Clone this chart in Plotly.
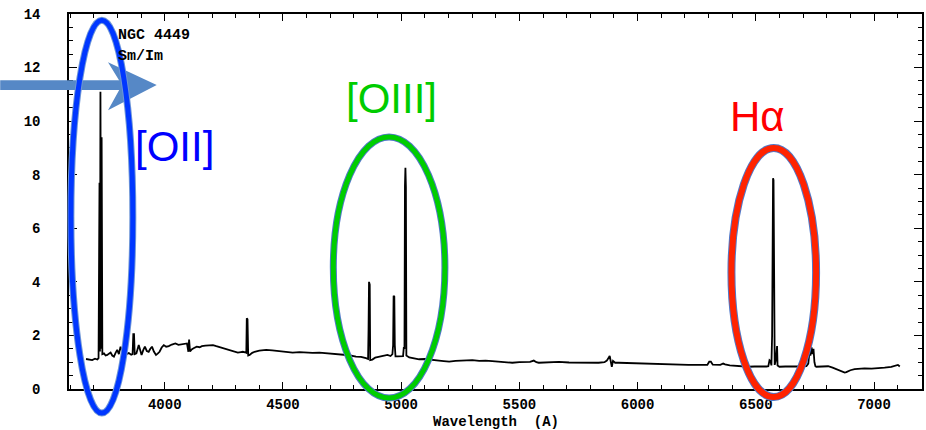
import plotly.graph_objects as go

# ---------------- data ----------------
wavelength = [
    3667, 3680, 3693, 3705, 3715, 3720,
    3724, 3726, 3728, 3731, 3733, 3736,
    3743, 3750, 3757, 3764, 3771, 3778, 3785, 3792, 3799, 3806, 3813, 3820,
    3827, 3837, 3848, 3858, 3864, 3867, 3870, 3873, 3880, 3890, 3896, 3902,
    3909, 3916, 3924, 3932, 3939, 3946, 3954, 3963, 3970, 3978, 3987, 3996,
    4006, 4017, 4030, 4045, 4058, 4073, 4085, 4094, 4100, 4103, 4107, 4114,
    4122, 4135, 4148, 4157, 4172, 4186, 4204, 4218, 4232, 4250, 4274, 4292,
    4309, 4322, 4330, 4340, 4345, 4347, 4350, 4353, 4359, 4370, 4380, 4400,
    4429, 4455, 4485, 4510, 4541, 4570, 4598, 4625, 4654, 4680, 4710, 4735,
    4752, 4780, 4809, 4830, 4851,
    4860, 4862, 4864, 4867, 4869,
    4878, 4890, 4907, 4925, 4942, 4955,
    4963, 4966, 4968, 4971, 4973, 4976,
    4985, 4992, 5000, 5008, 5011, 5014, 5016, 5018, 5020, 5022,
    5034, 5055, 5076, 5100, 5118, 5140, 5160, 5180, 5203, 5230, 5259, 5280,
    5301, 5330, 5357, 5385, 5414, 5440, 5470, 5500, 5526, 5545, 5561, 5572,
    5582, 5620, 5667, 5710, 5751, 5790, 5835, 5860, 5870, 5882, 5887, 5891,
    5896, 5905, 5920, 5950, 5990, 6020, 6046, 6075, 6103, 6130, 6159, 6185,
    6215, 6245, 6271, 6295, 6303, 6310, 6318, 6328, 6350, 6362, 6370, 6390,
    6412, 6440, 6468, 6495, 6525, 6545, 6553, 6558, 6562, 6566,
    6569, 6571, 6573, 6575, 6577, 6580,
    6585, 6587, 6590, 6592,
    6600, 6625, 6651, 6680, 6714,
    6722, 6726, 6728, 6731, 6736, 6740, 6744, 6748, 6752,
    6756, 6780, 6806, 6825, 6841, 6860, 6876, 6883, 6900, 6918, 6940, 6960,
    6990, 7017, 7045, 7073, 7090, 7101, 7109,
]
flux = [
    1.12, 1.10, 1.08, 1.13, 1.10, 1.15,
    7.70, 1.40, 11.10, 1.50, 9.40, 1.30,
    1.33, 1.25, 1.27, 1.32, 1.36, 1.25, 1.21, 1.35, 1.46, 1.30, 1.58, 1.40,
    1.27, 1.30, 1.34, 1.28, 1.30, 2.05, 2.05, 1.30, 1.33, 1.64, 1.40, 1.27,
    1.45, 1.58, 1.42, 1.39, 1.50, 1.58, 1.40, 1.27, 1.32, 1.39, 1.55, 1.64,
    1.58, 1.60, 1.66, 1.70, 1.65, 1.67, 1.71, 1.70, 1.39, 1.85, 1.40, 1.48,
    1.52, 1.58, 1.56, 1.60, 1.62, 1.64, 1.64, 1.60, 1.56, 1.50, 1.46, 1.40,
    1.36, 1.38, 1.39, 1.37, 1.35, 2.64, 2.60, 1.25, 1.27, 1.35, 1.39, 1.43,
    1.46, 1.44, 1.42, 1.40, 1.36, 1.38, 1.36, 1.35, 1.36, 1.34, 1.33, 1.31,
    1.29, 1.26, 1.21, 1.20, 1.15,
    1.12, 2.20, 4.00, 3.90, 1.08,
    1.10, 1.17, 1.21, 1.24, 1.27, 1.23,
    1.30, 1.64, 3.48, 3.45, 1.64, 1.22,
    1.22, 1.23, 1.22, 1.23, 1.53, 1.53, 7.57, 8.26, 7.55, 1.25,
    1.18, 1.14, 1.11, 1.12, 1.11, 1.08, 1.06, 1.04, 1.02, 1.05, 1.06, 1.05,
    1.08, 1.05, 1.06, 1.04, 1.02, 1.00, 0.98, 1.00, 1.00, 1.01, 1.06, 1.00,
    0.98, 1.00, 1.01, 0.99, 0.98, 0.99, 0.98, 1.00, 1.06, 1.23, 1.00, 0.83,
    1.05, 0.98, 0.98, 0.97, 0.96, 0.96, 0.96, 0.94, 0.93, 0.93, 0.92, 0.91,
    0.90, 0.90, 0.89, 0.90, 1.02, 1.02, 0.91, 0.90, 0.90, 0.95, 0.92, 0.88,
    0.86, 0.85, 0.83, 0.84, 0.83, 0.84, 0.85, 1.08, 1.05, 0.88,
    2.00, 6.37, 7.87, 7.80, 2.00, 0.90,
    1.10, 1.60, 1.60, 0.88,
    0.83, 0.84, 0.83, 0.84, 0.85,
    0.95, 1.30, 1.58, 1.25, 1.55, 1.30, 1.50, 1.00, 0.85,
    0.83, 0.84, 0.85, 0.80, 0.74, 0.68, 0.61, 0.63, 0.70, 0.74, 0.76, 0.77,
    0.76, 0.77, 0.80, 0.83, 0.86, 0.90, 0.84,
]

x_range = [3595, 7203]
y_range = [0, 14]
x_tickvals = [4000, 4500, 5000, 5500, 6000, 6500, 7000]
y_tickvals = [0, 2, 4, 6, 8, 10, 12, 14]

title_text = "NGC 4449"
subtitle_text = "Sm/Im"
x_title = "Wavelength\u00a0\u00a0(A)"

# highlighted lines: label, centre wavelength, half width, bottom, top, label position
highlights = [
    dict(label="[OII]", cx=3734, hw=131, y0=-0.90, y1=13.77,
         lx=4040, ly=9.07, color="#0000ff", ring="rgb(0,55,255)",
         edge="rgb(110,150,215)", ring_w=5, edge_w=7),
    dict(label="[OIII]", cx=4949, hw=236, y0=-0.34, y1=9.41,
         lx=4960, ly=10.86, color="#00cc00", ring="rgb(0,205,0)",
         edge="rgb(80,120,200)", ring_w=5, edge_w=7),
    dict(label="H\u03b1", cx=6576, hw=179, y0=-0.30, y1=9.00,
         lx=6506, ly=10.19, color="#ff0000", ring="rgb(255,35,0)",
         edge="rgb(80,120,200)", ring_w=6, edge_w=8),
]

# arrow (in data units): shaft and head
arrow_shaft = dict(x0=3304, x1=3831, y0=11.16, y1=11.53)
arrow_head = dict(back=3760, notch=3819, tip=3966, ytop=12.20, ybot=10.41, ymid=11.35)


def to_paper_x(v):
    return (v - x_range[0]) / (x_range[1] - x_range[0])


def to_paper_y(v):
    return (v - y_range[0]) / (y_range[1] - y_range[0])


mono = "Liberation Mono, Courier New, monospace"

fig = go.Figure()
fig.add_trace(go.Scatter(
    x=wavelength, y=flux, mode="lines",
    line=dict(color="black", width=1.8),
    hoverinfo="skip", showlegend=False,
))

shapes = []
# arrow
shapes.append(dict(
    type="rect", xref="paper", yref="paper",
    x0=to_paper_x(arrow_shaft["x0"]), x1=to_paper_x(arrow_shaft["x1"]),
    y0=to_paper_y(arrow_shaft["y0"]), y1=to_paper_y(arrow_shaft["y1"]),
    fillcolor="rgb(86,136,198)", line=dict(width=0), layer="above",
))
h = arrow_head
path = "M {:.5f},{:.5f} L {:.5f},{:.5f} L {:.5f},{:.5f} L {:.5f},{:.5f} Z".format(
    to_paper_x(h["back"]), to_paper_y(h["ytop"]),
    to_paper_x(h["tip"]), to_paper_y(h["ymid"]),
    to_paper_x(h["back"]), to_paper_y(h["ybot"]),
    to_paper_x(h["notch"]), to_paper_y(h["ymid"]),
)
shapes.append(dict(type="path", xref="paper", yref="paper", path=path,
                   fillcolor="rgb(86,136,198)", line=dict(width=0), layer="above"))

annotations = []
for hl in highlights:
    for col, w in ((hl["edge"], hl["edge_w"]), (hl["ring"], hl["ring_w"])):
        shapes.append(dict(
            type="circle", xref="paper", yref="paper",
            x0=to_paper_x(hl["cx"] - hl["hw"]), x1=to_paper_x(hl["cx"] + hl["hw"]),
            y0=to_paper_y(hl["y0"]), y1=to_paper_y(hl["y1"]),
            line=dict(color=col, width=w), fillcolor="rgba(0,0,0,0)", layer="above",
        ))
    annotations.append(dict(
        x=hl["lx"], y=hl["ly"], xref="x", yref="y", text=hl["label"],
        showarrow=False, xanchor="center", yanchor="middle",
        font=dict(family="Liberation Sans, Arial, sans-serif", size=42, color=hl["color"]),
    ))

annotations.append(dict(x=3792, y=13.18, xref="x", yref="y", text=title_text,
                        showarrow=False, xanchor="left", yanchor="middle",
                        font=dict(family=mono, size=15, color="black", weight="bold")))
annotations.append(dict(x=3792, y=12.42, xref="x", yref="y", text=subtitle_text,
                        showarrow=False, xanchor="left", yanchor="middle",
                        font=dict(family=mono, size=15, color="black", weight="bold")))
# x-axis title, placed just below the tick labels
annotations.append(dict(x=0.5, y=-0.089, xref="paper", yref="paper", text=x_title,
                        showarrow=False, xanchor="center", yanchor="middle",
                        font=dict(family=mono, size=14, color="black", weight="bold")))

axis_common = dict(
    showline=True, linecolor="black", linewidth=1.5, mirror="allticks",
    ticks="inside", tickcolor="black", tickwidth=1.3,
    showgrid=False, zeroline=False,
    tickfont=dict(family=mono, size=14, color="black", weight="bold"),
)

fig.update_layout(
    width=926, height=430,
    margin=dict(l=69, r=2, t=14, b=41),
    paper_bgcolor="white", plot_bgcolor="white",
    shapes=shapes, annotations=annotations,
    xaxis=dict(
        range=x_range, tickvals=x_tickvals, ticklen=7,
        minor=dict(dtick=100, tick0=3600, ticklen=4, ticks="inside", tickcolor="black", tickwidth=1.2),
        ticklabelstandoff=1,
        **axis_common,
    ),
    yaxis=dict(
        range=y_range, tickvals=y_tickvals, ticklen=8,
        minor=dict(dtick=0.5, tick0=0, ticklen=4, ticks="inside", tickcolor="black", tickwidth=1.2),
        ticklabelstandoff=24,
        **axis_common,
    ),
)

fig.write_html("out.html")
